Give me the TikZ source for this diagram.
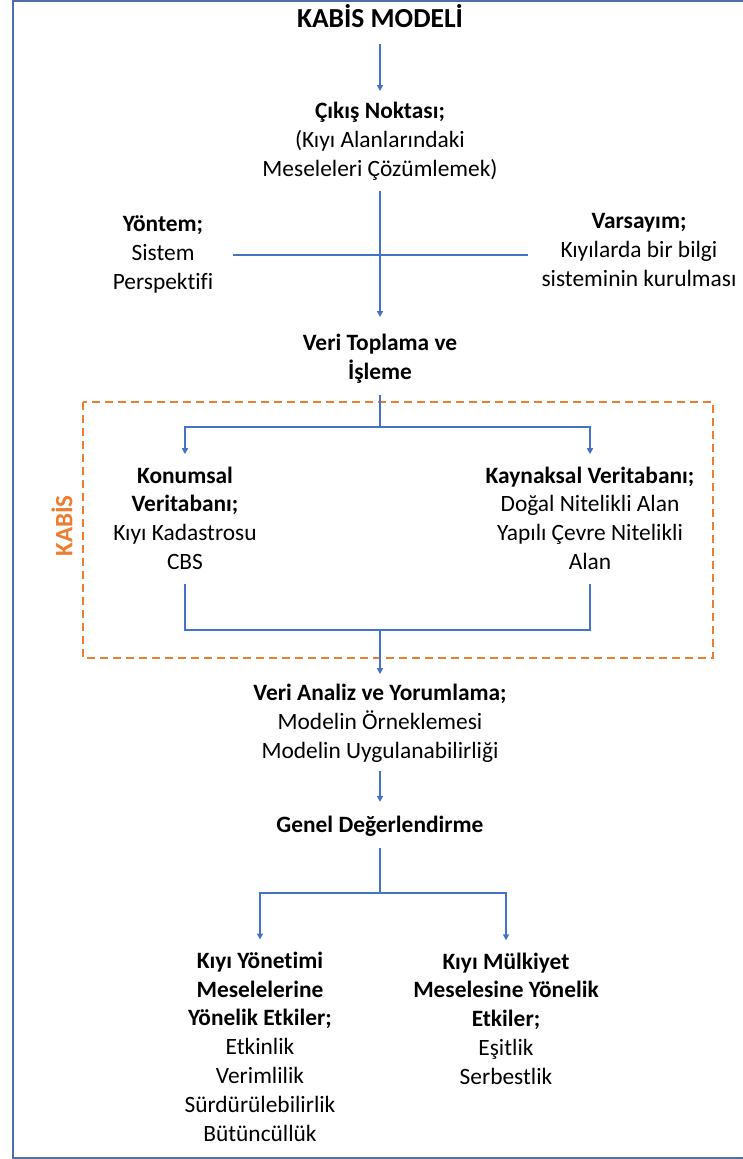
\documentclass[tikz,border=0pt]{standalone}
\usepackage{fontspec}
\setmainfont{Carlito}[Ligatures=NoCommon]
\usetikzlibrary{arrows.meta}
\definecolor{linkblue}{RGB}{68,114,196}
\definecolor{frameblue}{RGB}{79,110,170}
\definecolor{kabisorange}{RGB}{237,125,49}
\newcommand\Lx{\strut}
\begin{document}
\begin{tikzpicture}[x=1pt,y=-1pt,
  txt/.style={align=center,inner sep=0pt,text=black,font=\fontsize{23.4}{28.8}\selectfont},
  titletxt/.style={align=center,inner sep=0pt,text=black,font=\fontsize{27.5}{33}\selectfont\bfseries},
  link/.style={draw=linkblue,line width=1.5pt},
  arr/.style={link,-{Triangle[width=6pt,length=6pt]}},
  kabisbox/.style={draw=kabisorange,line width=1.5pt,dash pattern=on 8pt off 5pt},
  kabislabel/.style={inner sep=0pt,text=kabisorange,font=\fontsize{25}{30}\selectfont\bfseries,rotate=90}
]
\useasboundingbox (0,0) rectangle (743,1159);
\fill[white] (0,0) rectangle (743,1159);
\draw[frameblue,line width=2pt] (13,0.8) rectangle (770,1157.8);

% nodes
\node[titletxt] (title) at (380,21) {\Lx KABİS MODELİ};
\node[txt] (cikis) at (380,142) {\Lx\textbf{Çıkış Noktası;}\\\Lx(Kıyı Alanlarındaki\\\Lx Meseleleri Çözümlemek)};
\node[txt] (yontem) at (163,255) {\Lx\textbf{Yöntem;}\\\Lx Sistem\\\Lx Perspektifi};
\node[txt] (varsayim) at (639,252) {\Lx\textbf{Varsayım;}\\\Lx Kıyılarda bir bilgi\\\Lx sisteminin kurulması};
\node[txt] (veritop) at (380,359) {\Lx\textbf{Veri Toplama ve}\\\Lx\textbf{İşleme}};
\node[txt] (konum) at (185,520.5) {\Lx\textbf{Konumsal}\\\Lx\textbf{Veritabanı;}\\\Lx Kıyı Kadastrosu\\\Lx CBS};
\node[txt] (kaynak) at (590,520.5) {\Lx\textbf{Kaynaksal Veritabanı;}\\\Lx Doğal Nitelikli Alan\\\Lx Yapılı Çevre Nitelikli\\\Lx Alan};
\node[txt] (analiz) at (380,724) {\Lx\textbf{Veri Analiz ve Yorumlama;}\\\Lx Modelin Örneklemesi\\\Lx Modelin Uygulanabilirliği};
\node[txt] (genel) at (380,827) {\Lx\textbf{Genel Değerlendirme}};
\node[txt] (yonetim) at (260,1049) {\Lx\textbf{Kıyı Yönetimi}\\\Lx\textbf{Meselelerine}\\\Lx\textbf{Yönelik Etkiler;}\\\Lx Etkinlik\\\Lx Verimlilik\\\Lx Sürdürülebilirlik\\\Lx Bütüncüllük};
\node[txt] (mulkiyet) at (506,1021) {\Lx\textbf{Kıyı Mülkiyet}\\\Lx\textbf{Meselesine Yönelik}\\\Lx\textbf{Etkiler;}\\\Lx Eşitlik\\\Lx Serbestlik};

% KABIS dashed frame
\draw[kabisbox] (83,402) rectangle (713,658);
\node[kabislabel] (kabis) at (62,526) {KABİS};

% branch coordinates
\coordinate (f1) at (380,427);
\coordinate (j1) at (380,630);
\coordinate (f2) at (380,893);

% connectors
\draw[arr,shorten <=6pt,shorten >=7.5pt] (title.south) -- (cikis.north);
\draw[arr,shorten <=6pt,shorten >=13pt] (cikis.south) -- (veritop.north);
\draw[link,shorten <=20pt,shorten >=13pt] (yontem.east) -- (yontem.east -| varsayim.west);

\draw[link,shorten <=7pt] (veritop.south) -- (f1);
\draw[arr,shorten >=8.5pt] (f1) -| (konum.north);
\draw[arr,shorten >=8.5pt] (f1) -| (kaynak.north);

\draw[link,shorten <=6pt] (konum.south) |- (j1);
\draw[link,shorten <=6pt] (kaynak.south) |- (j1);
\draw[arr,shorten >=6.5pt] (j1) -- (analiz.north);

\draw[arr,shorten <=4pt,shorten >=10.5pt] (analiz.south) -- (genel.north);

\draw[link,shorten <=6pt] (genel.south) -- (f2);
\draw[arr,shorten >=8.5pt] (f2) -| (yonetim.north);
\draw[arr,shorten >=8.5pt] (f2) -| (mulkiyet.north);
\end{tikzpicture}
\end{document}
